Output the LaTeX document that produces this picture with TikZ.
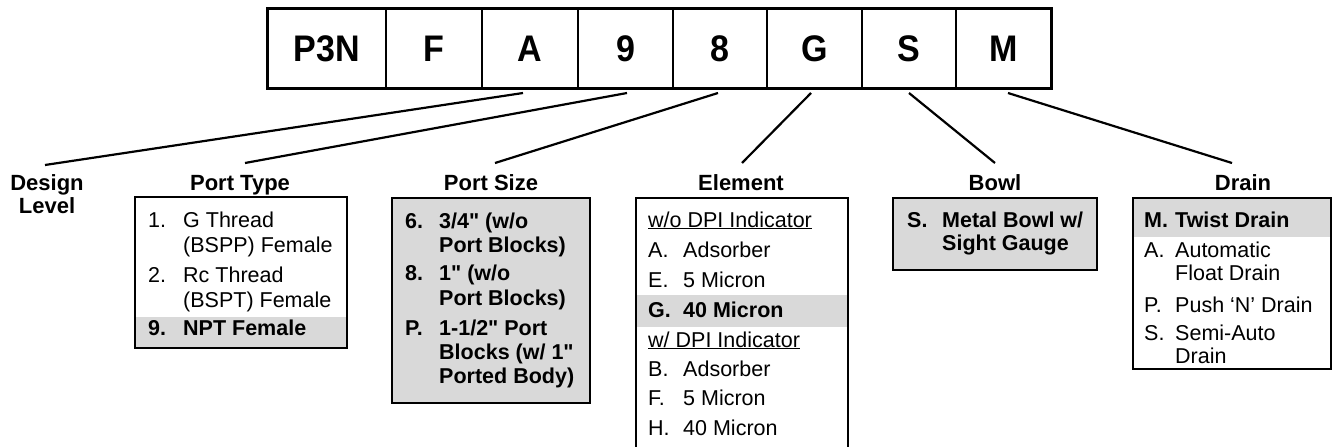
\documentclass[tikz,border=0pt]{standalone}
\usepackage{fontspec}
\setmainfont{Liberation Sans}
\newfontfamily\condfont[FakeStretch=0.92]{Liberation Sans}
\newfontfamily\rawfont{Liberation Sans}
\newcommand\sq{{\rawfont\bfseries\symbol{34}}}
\usetikzlibrary{calc}
\definecolor{bandgray}{RGB}{217,217,217}
\begin{document}
\begin{tikzpicture}[x=1pt,y=-1pt,
  codebox/.style={draw,line width=1.6pt,minimum height=79pt,inner sep=0pt,
    font=\condfont\bfseries\fontsize{37}{37}\selectfont},
  ttl/.style={font=\bfseries\fontsize{22}{23}\selectfont,inner sep=0pt,anchor=base},
  txt/.style={font=\fontsize{21.5}{24}\selectfont,inner sep=0pt,anchor=base west},
  btxt/.style={txt,font=\bfseries\fontsize{21.5}{24}\selectfont},
  conn/.style={line width=2.2pt},
  boxframe/.style={line width=2.4pt},
  listbox/.style={anchor=north west,inner sep=0pt,outer sep=0pt},
  band/.style={fill=bandgray}]
\useasboundingbox (0,0) rectangle (1333,447);

% ---- code row ----
\node[codebox,minimum width=118pt] (cP3N) at (327,48.5) {P3N};
\node[codebox,minimum width=96pt] (cF) at (434,48.5) {F};
\node[codebox,minimum width=96pt] (cA) at (530,48.5) {A};
\node[codebox,minimum width=95pt] (c9) at (625.5,48.5) {9};
\node[codebox,minimum width=94pt] (c8) at (720,48.5) {8};
\node[codebox,minimum width=95pt] (cG) at (814.5,48.5) {G};
\node[codebox,minimum width=94pt] (cS) at (909,48.5) {S};
\node[codebox,minimum width=95pt] (cM) at (1003.5,48.5) {M};
\draw[boxframe] (cP3N.north west) rectangle (cM.south east);

% ---- connector ends ----
\coordinate (sA) at (523,93);
\coordinate (s9) at (627,93);
\coordinate (s8) at (718,93);
\coordinate (sG) at (811,93);
\coordinate (sS) at (909,93);
\coordinate (sM) at (1008,93);
\coordinate (eDL) at (45,165);
\coordinate (ePT) at (245,163);
\coordinate (ePS) at (495,163);
\coordinate (eEL) at (742,163);
\coordinate (eBW) at (995,163);
\coordinate (eDR) at (1232,163);
\draw[conn] (sA) -- (eDL);
\draw[conn] (s9) -- (ePT);
\draw[conn] (s8) -- (ePS);
\draw[conn] (sG) -- (eEL);
\draw[conn] (sS) -- (eBW);
\draw[conn] (sM) -- (eDR);

% ---- titles ----
\node[ttl,anchor=north,align=center] (tDL) at (47,174.5) {Design\\Level};
\node[ttl] (tPT) at (240,190) {Port Type};
\node[ttl] (tPS) at (491,190) {Port Size};
\node[ttl] (tEL) at (741,190) {Element};
\node[ttl] (tBW) at (995,190) {Bowl};
\node[ttl] (tDR) at (1243,190) {Drain};

% ---- Port Type box ----
\fill[band] (135,317) rectangle (347,348);
\node[listbox,draw,boxframe,minimum width=212pt,minimum height=151pt] (bPT) at (135,197) {};
\node[txt] (pt1a) at (148,227) {1.};
\node[txt] (pt1b) at (183,227) {G Thread};
\node[txt] (pt1c) at (183,252) {(BSPP) Female};
\node[txt] (pt2a) at (148,282) {2.};
\node[txt] (pt2b) at (183,282) {Rc Thread};
\node[txt] (pt2c) at (183,307) {(BSPT) Female};
\node[btxt] (pt9a) at (148,335) {9.};
\node[btxt] (pt9b) at (183,335) {NPT Female};

% ---- Port Size box ----
\node[listbox,draw,boxframe,fill=bandgray,minimum width=198pt,minimum height=205pt] (bPS) at (392,198) {};
\node[btxt] (ps6a) at (405,228) {6.};
\node[btxt] (ps6b) at (439,228) {3/4\sq{} (w/o};
\node[btxt] (ps6c) at (439,252) {Port Blocks)};
\node[btxt] (ps8a) at (405,280) {8.};
\node[btxt] (ps8b) at (439,280) {1\sq{} (w/o};
\node[btxt] (ps8c) at (439,305) {Port Blocks)};
\node[btxt] (psPa) at (405,335) {P.};
\node[btxt] (psPb) at (439,335) {1-1/2\sq{} Port};
\node[btxt] (psPc) at (439,359) {Blocks (w/ 1\sq};
\node[btxt] (psPd) at (439,383) {Ported Body)};

% ---- Element box ----
\fill[band] (636,295) rectangle (848,327);
\node[listbox,minimum width=212pt,minimum height=262pt] (bEL) at (636,198) {};
\draw[boxframe] (bEL.south west) -- (bEL.north west) -- (bEL.north east) -- (bEL.south east);
\node[txt] (elh1) at (648,227) {\underline{w/o DPI Indicator}};
\node[txt] (elAa) at (648,257) {A.};
\node[txt] (elAb) at (683,257) {Adsorber};
\node[txt] (elEa) at (648,287) {E.};
\node[txt] (elEb) at (683,287) {5 Micron};
\node[btxt] (elGa) at (648,317) {G.};
\node[btxt] (elGb) at (683,317) {40 Micron};
\node[txt] (elh2) at (648,347) {\underline{w/ DPI Indicator}};
\node[txt] (elBa) at (648,376) {B.};
\node[txt] (elBb) at (683,376) {Adsorber};
\node[txt] (elFa) at (648,405) {F.};
\node[txt] (elFb) at (683,405) {5 Micron};
\node[txt] (elHa) at (648,435) {H.};
\node[txt] (elHb) at (683,435) {40 Micron};

% ---- Bowl box ----
\node[listbox,draw,boxframe,fill=bandgray,minimum width=204pt,minimum height=72pt] (bBW) at (893,198) {};
\node[btxt] (bwSa) at (907,227) {S.};
\node[btxt] (bwSb) at (942,227) {Metal Bowl w/};
\node[btxt] (bwSc) at (942,250) {Sight Gauge};

% ---- Drain box ----
\fill[band] (1133,198) rectangle (1331,237);
\node[listbox,draw,boxframe,minimum width=198pt,minimum height=171pt] (bDR) at (1133,198) {};
\node[btxt] (drMa) at (1144,227) {M.};
\node[btxt] (drMb) at (1175,227) {Twist Drain};
\node[txt] (drAa) at (1144,257) {A.};
\node[txt] (drAb) at (1175,257) {Automatic};
\node[txt] (drAc) at (1175,280) {Float Drain};
\node[txt] (drPa) at (1144,312) {P.};
\node[txt] (drPb) at (1175,312) {Push ‘N’ Drain};
\node[txt] (drSa) at (1144,340) {S.};
\node[txt] (drSb) at (1175,340) {Semi-Auto};
\node[txt] (drSc) at (1175,363) {Drain};
\end{tikzpicture}
\end{document}
